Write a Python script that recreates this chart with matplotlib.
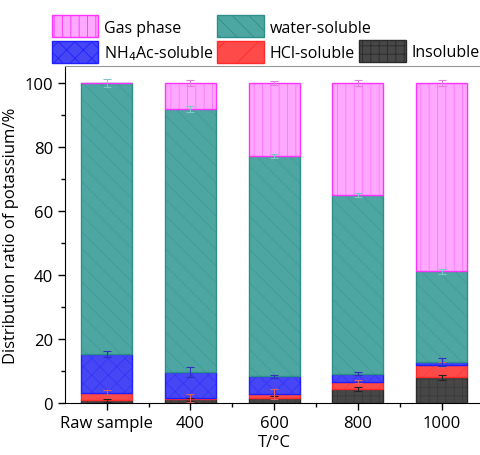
import numpy as np
import matplotlib.pyplot as plt
from matplotlib.patches import Patch
from matplotlib.ticker import MultipleLocator, FixedLocator

plt.rcParams['font.family'] = ['Open Sans', 'DejaVu Sans']
plt.rcParams['hatch.linewidth'] = 0.6

## data (cumulative values, converted to segment heights)
samples = ['Raw sample', '400', '600', '800', '1000']
insoluble = [0.8, 1.1, 1.6, 4.5, 8.1]
hcl_soluble = [2.4, 0.4, 1.3, 2.2, 3.8]
nh4ac_soluble = [12.1, 8.2, 5.4, 2.5, 1.0]
water_soluble = [84.7, 82.1, 68.9, 55.7, 28.2]
gas_phase = [0.0, 8.2, 22.8, 35.1, 58.9]

insoluble_err = [0.4, 0.4, 0.5, 0.6, 0.8]
hcl_err = [0.8, 1.2, 1.5, 0.6, 0.8]
nh4ac_err = [0.8, 1.5, 0.5, 0.5, 1.2]
water_err = [1.2, 1.0, 0.5, 0.6, 0.8]
gas_err = [0.0, 0.8, 0.6, 1.0, 1.0]

layers = [
    ('Insoluble', insoluble, insoluble_err, '#474747', '#2a2a2a', '#222222', '++'),
    ('HCl-soluble', hcl_soluble, hcl_err, '#ff4a4a', '#ff2a2a', '#e06060', '/'),
    ('NH$_4$Ac-soluble', nh4ac_soluble, nh4ac_err, '#4646f5', '#2020ff', '#3030c0', 'xx'),
    ('water-soluble', water_soluble, water_err, '#4ea6a2', '#2c8f8a', '#7fc8c4', '\\\\'),
    ('Gas phase', gas_phase, gas_err, '#ffa8ff', '#ff33ff', '#e080e0', '||'),
]

fig = plt.figure(figsize=(4.81, 4.56), dpi=100)
ax = fig.add_axes([0.135, 0.114, 0.87, 0.739])

x = np.arange(len(samples))
width = 0.61
bottom = np.zeros(len(samples))
handles = {}
for name, vals, errs, fc, ec, errc, hatch in layers:
    vals = np.array(vals)
    ax.bar(x, vals, width, bottom=bottom, color=fc, edgecolor=ec + '70',
           hatch=hatch, linewidth=0)
    ax.bar(x, vals, width, bottom=bottom, fill=False, edgecolor=ec, linewidth=1.0)
    top = bottom + vals
    mask = vals > 0
    ax.errorbar(x[mask], top[mask], yerr=np.array(errs)[mask], fmt='none',
                ecolor=errc, elinewidth=0.8, capsize=3, capthick=0.8)
    handles[name] = Patch(facecolor=fc, edgecolor=ec, hatch=hatch, linewidth=1.0)
    bottom = top

ax.set_xlim(-0.5, 4.5)
ax.set_ylim(0, 105.3)
ax.set_xticks(x)
ax.set_xticklabels(samples, fontsize=12)
ax.xaxis.set_minor_locator(FixedLocator(x[:-1] + 0.5))
ax.yaxis.set_major_locator(MultipleLocator(20))
ax.yaxis.set_minor_locator(MultipleLocator(10))
ax.tick_params(axis='y', labelsize=12)
ax.tick_params(which='major', direction='out', length=5, width=1)
ax.tick_params(which='minor', direction='out', length=3, width=1)
ax.spines['right'].set_visible(False)
ax.spines['top'].set_color('#999999')
ax.set_xlabel('T/°C', fontsize=12, labelpad=2)
ax.set_ylabel('Distribution ratio of potassium/%', fontsize=12)

# legend: 2x2 grid plus "Insoluble" packed at the end of the second row
leg_kw = dict(frameon=False, fontsize=11.5, loc='upper left', borderpad=0,
              borderaxespad=0, handlelength=2.9, handleheight=1.75,
              handletextpad=0.35, columnspacing=0.25, labelspacing=0.2)
leg1 = fig.legend([handles['Gas phase'], handles['NH$_4$Ac-soluble'],
                   handles['water-soluble'], handles['HCl-soluble']],
                  ['Gas phase', 'NH$_4$Ac-soluble', 'water-soluble', 'HCl-soluble'],
                  ncol=2, bbox_to_anchor=(0.108, 0.964), **leg_kw)
fig.legend([handles['Insoluble']], ['Insoluble'],
           bbox_to_anchor=(0.747, 0.910), **leg_kw)

fig.savefig('out.png', dpi=100)
